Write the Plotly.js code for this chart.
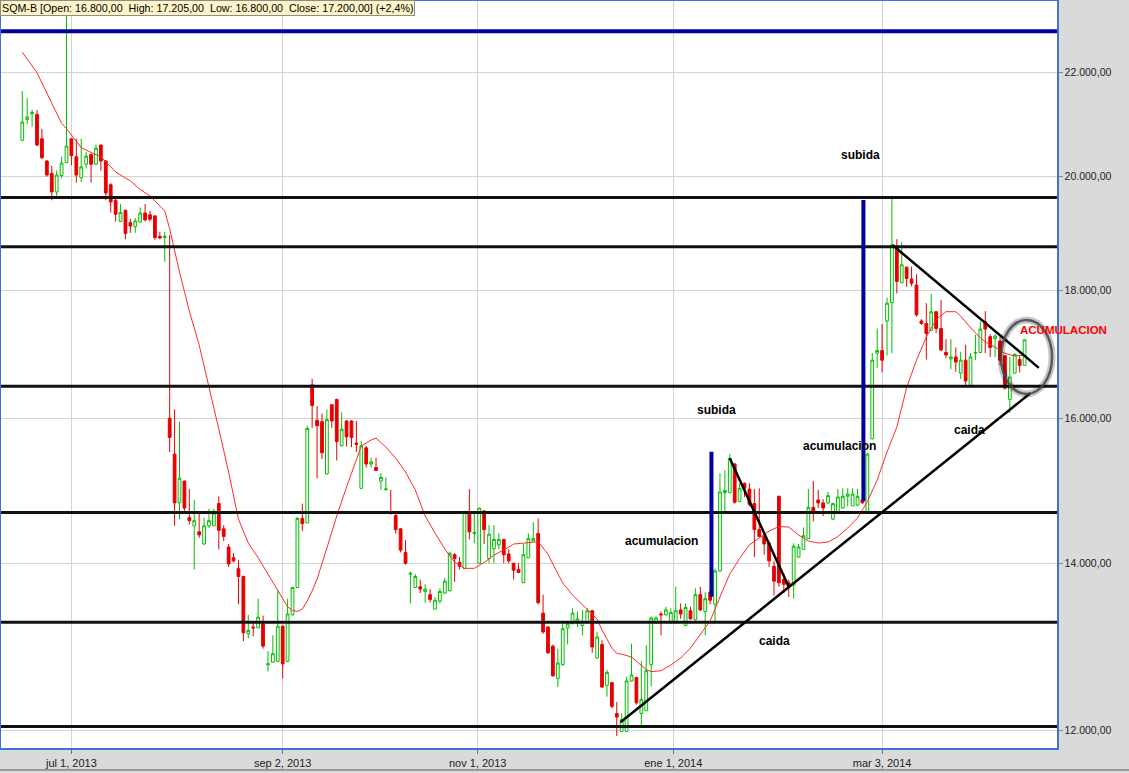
<!DOCTYPE html>
<html><head><meta charset="utf-8">
<script src="https://cdn.plot.ly/plotly-3.0.1.min.js"></script>
<style>html,body{margin:0;padding:0;background:#dadada;}#chart{width:1129px;height:773px;}</style>
</head><body><div id="chart"></div>
<script>
const dates = [
"2013-06-17","2013-06-18","2013-06-19","2013-06-20","2013-06-21","2013-06-24","2013-06-25","2013-06-26","2013-06-27","2013-06-28",
"2013-07-01","2013-07-02","2013-07-03","2013-07-04","2013-07-05","2013-07-08","2013-07-09","2013-07-10","2013-07-11","2013-07-12","2013-07-15","2013-07-17","2013-07-18","2013-07-19","2013-07-22","2013-07-23","2013-07-24","2013-07-25","2013-07-26","2013-07-29","2013-07-30","2013-07-31",
"2013-08-01","2013-08-02","2013-08-05","2013-08-06","2013-08-07","2013-08-08","2013-08-09","2013-08-12","2013-08-13","2013-08-14","2013-08-16","2013-08-19","2013-08-20","2013-08-21","2013-08-22","2013-08-23","2013-08-26","2013-08-27","2013-08-28","2013-08-29","2013-08-30",
"2013-09-02","2013-09-03","2013-09-04","2013-09-05","2013-09-06","2013-09-09","2013-09-10","2013-09-11","2013-09-12","2013-09-13","2013-09-16","2013-09-17","2013-09-23","2013-09-24","2013-09-25","2013-09-26","2013-09-27","2013-09-30",
"2013-10-01","2013-10-02","2013-10-03","2013-10-04","2013-10-07","2013-10-08","2013-10-09","2013-10-10","2013-10-11","2013-10-15","2013-10-16","2013-10-17","2013-10-18","2013-10-21","2013-10-22","2013-10-23","2013-10-24","2013-10-25","2013-10-28","2013-10-29","2013-10-30","2013-10-31",
"2013-11-04","2013-11-05","2013-11-06","2013-11-07","2013-11-08","2013-11-11","2013-11-12","2013-11-13","2013-11-14","2013-11-15","2013-11-18","2013-11-19","2013-11-20","2013-11-21","2013-11-22","2013-11-25","2013-11-26","2013-11-27","2013-11-28","2013-11-29",
"2013-12-02","2013-12-03","2013-12-04","2013-12-05","2013-12-06","2013-12-09","2013-12-10","2013-12-11","2013-12-12","2013-12-13","2013-12-16","2013-12-17","2013-12-18","2013-12-19","2013-12-20","2013-12-23","2013-12-24","2013-12-26","2013-12-27","2013-12-30",
"2014-01-02","2014-01-03","2014-01-06","2014-01-07","2014-01-08","2014-01-09","2014-01-10","2014-01-13","2014-01-14","2014-01-15","2014-01-16","2014-01-17","2014-01-20","2014-01-21","2014-01-22","2014-01-23","2014-01-24","2014-01-27","2014-01-28","2014-01-29","2014-01-30","2014-01-31",
"2014-02-03","2014-02-04","2014-02-05","2014-02-06","2014-02-07","2014-02-10","2014-02-11","2014-02-12","2014-02-13","2014-02-14","2014-02-17","2014-02-18","2014-02-19","2014-02-20","2014-02-21","2014-02-24","2014-02-25","2014-02-26","2014-02-27","2014-02-28",
"2014-03-03","2014-03-04","2014-03-05","2014-03-06","2014-03-07","2014-03-10","2014-03-11","2014-03-12","2014-03-13","2014-03-14","2014-03-17","2014-03-18","2014-03-19","2014-03-20","2014-03-21","2014-03-24","2014-03-25","2014-03-26","2014-03-27","2014-03-28","2014-03-31",
"2014-04-01","2014-04-02","2014-04-03","2014-04-04","2014-04-07","2014-04-08","2014-04-09","2014-04-10","2014-04-11"
];
const openP = [
20670,21070,21180,21170,20700,20280,20050,19710,20010,20250,
20700,20360,19970,20220,20400,20220,20580,20280,19840,19560,19180,19380,19160,19090,19170,19330,19300,19280,18920,18900,16000,15480,
14800,15100,14600,14490,14410,14250,14490,14490,14790,14450,14210,14070,13930,13830,13120,13200,13190,13240,12750,12780,12790,
13210,12790,13350,13690,14590,14530,16500,15970,15950,15200,16200,16280,15600,15960,15960,15640,15000,15570,
15340,15290,15100,14980,14680,14630,14450,14140,13860,13690,13700,13640,13600,13420,13520,13620,13650,14110,14010,13930,14670,14390,
14000,14690,14060,14190,14240,14310,14120,14000,13920,13750,14070,14290,14390,13370,13200,12970,12590,12750,13190,13240,
13250,13220,13250,13400,12830,12990,12510,12540,12190,11990,11990,12560,12600,12190,12220,12750,13250,13360,13350,13250,
13250,13410,13220,13400,13290,13600,13390,13630,13480,13900,14940,14940,15340,14820,15070,14990,14790,14440,14350,14260,13960,14890,
13790,13750,13720,14080,14180,14320,14740,14840,14800,14800,14580,14660,14730,14890,14760,14770,14840,14660,15700,16990,
17030,17500,17800,18710,18130,18390,18190,18090,17500,17460,17350,17650,17380,17000,16900,16930,16680,16880,16490,16990,17000,
17490,17250,17220,17180,16950,16280,16680,16890,16800
];
const highP = [
21630,21490,21260,21260,20890,20300,20190,20100,20360,24000,
20700,20700,20700,20450,20420,20590,20590,20300,19870,19600,19490,19390,19230,19240,19430,19490,19370,19290,19000,19000,18940,16130,
15950,15110,14990,14840,14670,14600,14720,14720,14890,14500,14250,14130,14040,13840,13350,13270,13550,13340,12910,13100,13650,
13220,13550,13700,14610,14790,15890,16590,16180,16070,16130,16210,16290,16090,15970,15970,15960,15670,15600,
15430,15430,15210,15150,14980,14660,14460,14300,13890,13860,13790,13730,13670,13570,13680,13810,14150,14130,14080,14670,14990,14660,
14730,14700,14500,14500,14390,14320,14180,14000,14000,14250,14390,14540,14590,13600,13210,12990,12940,13250,13250,13430,
13390,13410,13430,13410,13140,13040,12690,12550,12320,12190,12610,13000,12610,12790,12980,13330,13330,13390,13450,13430,
13700,13490,13490,13450,13680,13700,13630,13650,13930,15210,15250,15480,15350,15070,15080,15070,14990,15000,14410,14280,14030,14900,
13870,13790,14260,14250,14470,14990,15100,14980,14850,14950,14800,14990,15000,15000,15000,14990,14860,15500,16990,17380,
17450,17880,19580,18870,18820,18400,18400,18270,17530,17790,17940,17660,17840,17210,17210,17080,17010,17120,16990,17280,17490,
17660,17290,17290,17250,16960,16930,16990,16940,17205
];
const lowP = [
20670,20980,20930,20560,20320,19990,19560,19640,19960,20240,
20200,19880,19890,20140,19880,20210,20100,19560,19340,19180,19170,18870,18980,18980,19160,19180,19180,18860,18870,18480,15510,14490,
14580,14660,14510,13920,14330,14240,14460,14490,14180,14290,13950,14010,13480,13030,13060,13090,13190,12940,12670,12780,12780,
12590,12780,13340,13690,14420,14530,15860,15140,15410,15190,15860,15390,15590,15590,15580,15510,14990,15290,
15290,15240,14980,14970,14640,14390,14140,13980,13490,13690,13620,13500,13500,13420,13490,13610,13640,13760,13920,13930,14310,14260,
13990,14250,14000,14000,14180,14000,14000,13790,13880,13750,14070,14290,13480,13120,12880,12610,12490,12740,12990,13240,
13200,13100,13250,12890,12820,12480,12380,12250,11940,11990,11990,12550,12290,12050,12220,12500,13240,13100,13340,13250,
13250,13300,13210,13290,13280,13400,13100,13480,13270,13890,14690,14940,14790,14810,14880,14750,14080,14340,14110,13950,13590,13700,
13620,13570,13550,14070,14180,14320,14550,14730,14620,14780,14570,14650,14720,14750,14760,14760,14790,14650,15690,16760,
16690,16950,16990,17950,18120,18060,18070,17570,17440,16890,17350,17310,17020,16910,16740,16700,16590,16490,16480,16880,16990,
16990,16930,16930,16800,16430,16080,16670,16690,16800
];
const closeP = [
21020,21120,21210,20580,20340,20020,19710,20020,20240,20560,
20380,20020,20170,20370,20220,20520,20280,19690,19530,19310,19340,18970,19100,19190,19330,19210,19220,18900,18890,18920,15720,14800,
15140,14730,14560,14560,14370,14490,14560,14660,14430,14350,13990,14030,13830,13130,13160,13190,13320,12970,12760,12880,13210,
12760,13360,13690,14590,14520,15850,16190,15890,15500,15980,15960,15660,15840,15730,15720,15620,15600,15340,
15370,15250,15150,14990,14670,14440,14170,14000,13870,13830,13670,13670,13540,13530,13640,13770,14130,14060,13960,14670,14410,14400,
14730,14440,14380,14310,14310,14110,14030,13910,13880,14110,14320,14320,13500,13140,12890,12620,12770,13180,13240,13370,
13300,13270,13400,12960,13080,12490,12660,12270,12150,12120,12560,12630,12310,12350,12680,13310,13310,13350,13410,13380,
13400,13360,13440,13300,13600,13410,13550,13530,13900,14950,14970,15420,14810,15000,15000,14780,14440,14350,14250,14030,13770,13750,
13730,13700,14220,14210,14360,14740,14680,14800,14730,14900,14790,14880,14890,14920,14920,14890,14800,15480,16880,17030,
16880,17790,18770,18150,18430,18200,18120,17600,17460,17300,17650,17380,17040,16960,16930,16850,16880,16560,16930,17000,17370,
17370,17080,17260,16880,16450,16620,16970,16800,17200
];
// moving average (candle index, price)
const maIdx = [0,3,5,6,8,9,12,14,16,19,22,24,26,29,30,32,34,36,38,40,42,44,46,48,50,52,54,55,56,57,58,59,60,62,64,66,68,69,70,71,72,74,76,78,80,82,84,86,88,90,92,94,96,98,100,102,104,105,106,107,108,110,112,114,116,117,118,120,121,122,124,126,127,128,130,132,134,136,138,140,142,144,146,148,150,152,154,156,158,160,162,164,166,168,170,172,174,176,178,180,182,184,186,188,190,191,192,194,196,198,200,202,204];
const maVal = [22416,21998,21591,21393,20996,20894,20531,20440,20360,20076,19910,19754,19637,19367,19052,18308,17662,17118,16483,15841,15227,14581,14263,14072,13861,13652,13450,13403,13391,13421,13521,13646,13797,14197,14622,15018,15410,15596,15639,15682,15711,15581,15424,15227,14976,14622,14395,14184,14015,13934,13934,14009,14106,14171,14249,14259,14276,14280,14197,14119,13989,13746,13596,13471,13360,13298,13164,12947,12884,12875,12840,12746,12693,12669,12679,12746,12829,12947,13104,13274,13571,13861,14062,14240,14329,14421,14481,14474,14368,14289,14263,14276,14348,14461,14595,14816,15115,15510,15871,16460,16880,17243,17522,17651,17651,17580,17484,17307,17165,17084,16986,16944,16960];
const levelsBlack = [19610, 18740, 16480, 14670, 13260, 12045];
const levelBlue = 22855;
const tickIdx = [10, 53, 92.7, 132.5, 175];
const tickText = ["jul 1, 2013", "sep 2, 2013", "nov 1, 2013", "ene 1, 2014", "mar 3, 2014"];
const yTicks = [12000, 14000, 16000, 18000, 20000, 22000];

const maX = maIdx.map(i => dates[i]);
const FONT = "Liberation Sans, Arial, sans-serif";

const traces = [
  {type:'candlestick', x:dates, open:openP, high:highP, low:lowP, close:closeP,
   increasing:{line:{color:'#00c000', width:1}, fillcolor:'#ffffff'},
   decreasing:{line:{color:'#e80000', width:1}, fillcolor:'#e80000'},
   whiskerwidth:0, hoverinfo:'skip', showlegend:false},
  {type:'scatter', mode:'lines', x:maX, y:maVal, line:{color:'#ff2a2a', width:1}, hoverinfo:'skip', showlegend:false}
];

const shapes = [];
levelsBlack.forEach(v => shapes.push({type:'line', xref:'paper', yref:'y', x0:0, x1:1, y0:v, y1:v, line:{color:'#111111', width:3}}));
shapes.push({type:'line', xref:'paper', yref:'y', x0:0, x1:1, y0:levelBlue, y1:levelBlue, line:{color:'#00009c', width:4}});
// trend lines (index, price)
[[121.76,12091,205.15,16372],[144.0,15420,156.0,13700],[177.1,18769,206.9,16761]].forEach(t =>
  shapes.push({type:'line', xref:'x', yref:'y', x0:t[0], y0:t[1], x1:t[2], y1:t[3], line:{color:'#000000', width:2.5}}));
// blue vertical bars
[[140.27,15514,13575],[171.2,19564,14825]].forEach(b =>
  shapes.push({type:'line', xref:'x', yref:'y', x0:b[0], x1:b[0], y0:b[1], y1:b[2], line:{color:'#00009c', width:4}}));
// grey ellipse
shapes.push({type:'circle', xref:'paper', yref:'paper', x0:0.9470, x1:0.9953, y0:0.4740, y1:0.5730, line:{color:'rgba(0,0,0,0.22)', width:7}});
shapes.push({type:'circle', xref:'paper', yref:'paper', x0:0.9470, x1:0.9953, y0:0.4740, y1:0.5730, line:{color:'rgba(70,70,70,0.85)', width:2.5}});
// window frame
shapes.push({type:'line', xref:'paper', yref:'paper', x0:-0.01, x1:1.07, y0:-0.0295, y1:-0.0295, line:{color:'#9a9a9a', width:2}});

const lab = (text, i, p, extra) => Object.assign({xref:'x', yref:'y', x:i, y:Math.log10(p), text:text, showarrow:false,
   font:{family:FONT, size:12, color:'#000000', weight:'bold'}}, extra || {});
const annotations = [
  lab('subida', 170.6, 20392),
  lab('subida', 141.3, 16122),
  lab('acumulacion', 130.1, 14289),
  lab('acumulacion', 166.3, 15596),
  lab('caida', 153.1, 13031),
  lab('caida', 192.8, 15827),
  {xref:'paper', yref:'paper', x:0.9632, y:0.5596, xanchor:'left', text:'ACUMULACION', showarrow:false,
   font:{family:FONT, size:11.5, color:'#ff0000', weight:'bold'}},
  {xref:'paper', yref:'paper', x:-0.001, y:1.0013, xanchor:'left', yanchor:'top', showarrow:false,
   text:'SQM-B [Open: 16.800,00\u00a0\u00a0High: 17.205,00\u00a0\u00a0Low: 16.800,00\u00a0\u00a0Close: 17.200,00] (+2,4%)',
   font:{family:FONT, size:10.7, color:'#000000'}, bgcolor:'#fff4c8', bordercolor:'#8c8c8c', borderwidth:1, borderpad:1}
];

const layout = {
  width:1129, height:773,
  margin:{l:1, r:72, t:1, b:25},
  paper_bgcolor:'#dadada', plot_bgcolor:'#ffffff',
  separators:',.',
  boxgap:0.2,
  showlegend:false,
  font:{family:FONT, size:10, color:'#222'},
  xaxis:{type:'category', range:[-4.33, 210.6], rangeslider:{visible:false},
    tickmode:'array', tickvals:tickIdx, ticktext:tickText,
    showgrid:true, gridcolor:'#d4d4d4', gridwidth:1,
    showline:true, mirror:true, linecolor:'#3f72d8', linewidth:1.5,
    ticks:'outside', ticklen:4, tickcolor:'#3f72d8',
    tickfont:{family:FONT, size:11, color:'#222'}, fixedrange:true},
  yaxis:{type:'log', side:'right', range:[4.07218, 4.37109],
    tickmode:'array', tickvals:yTicks, tickformat:',.2f',
    showgrid:true, gridcolor:'#d4d4d4', gridwidth:1,
    showline:true, mirror:true, linecolor:'#3f72d8', linewidth:1.5,
    ticks:'outside', ticklen:4, tickcolor:'#888',
    tickfont:{family:FONT, size:10.5, color:'#222'}, zeroline:false, fixedrange:true},
  shapes:shapes, annotations:annotations
};

Plotly.newPlot('chart', traces, layout, {displayModeBar:false, staticPlot:true});
</script></body></html>
